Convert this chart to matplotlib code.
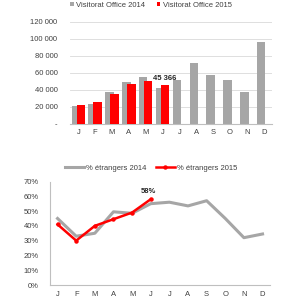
import matplotlib.pyplot as plt
import numpy as np

# data
months = ['J', 'F', 'M', 'A', 'M', 'J', 'J', 'A', 'S', 'O', 'N', 'D']
visit_2014 = [21500, 24000, 37000, 49000, 55500, 42500, 51500, 72000, 58000, 51500, 37500, 96000]
visit_2015 = [22000, 26000, 35000, 46500, 50000, 45366]
etr_2014 = [45, 33, 35, 49.5, 48.5, 55, 56, 53.5, 57, 45, 32, 34.5]
etr_2015 = [41, 30, 40, 44.5, 49, 58]

GREY = '#a6a6a6'
RED = '#ff0000'

fig = plt.figure(figsize=(3, 3), dpi=100)
plt.rcParams['font.family'] = ['Liberation Sans', 'DejaVu Sans']

# top chart: visitors
ax1 = fig.add_axes([0.233, 0.587, 0.674, 0.34])
x = np.arange(len(months))
x15 = np.arange(len(visit_2015))
ax1.bar(x - 0.15, visit_2014, width=0.5, color=GREY, label='Visitorat Office 2014', zorder=2)
ax1.bar(x15 + 0.15, visit_2015, width=0.5, color=RED, label='Visitorat Office 2015', zorder=3)
ax1.set_ylim(0, 120000)
ax1.set_xlim(-0.5, 11.5)
ax1.set_yticks(range(0, 120001, 20000))
ax1.set_yticklabels(['-'] + ['{:,}'.format(v).replace(',', ' ') for v in range(20000, 120001, 20000)])
ax1.set_xticks(x)
ax1.set_xticklabels(months)
ax1.grid(axis='y', color='#d9d9d9', linewidth=0.6, zorder=0)
for s in ['top', 'right', 'left']:
    ax1.spines[s].set_visible(False)
ax1.spines['bottom'].set_color('#bfbfbf')
ax1.tick_params(length=0, labelsize=5.5, colors='#404040', pad=4)
ax1.tick_params(axis='y', pad=9)
ax1.text(5 + 0.15, visit_2015[5] + 4000, '{:,}'.format(visit_2015[5]).replace(',', ' '),
         ha='center', va='bottom', fontsize=5.5, fontweight='bold', color='#262626', zorder=4)
ax1.legend(loc='lower center', bbox_to_anchor=(0.4, 1.06), ncol=2, frameon=False,
           fontsize=5.5, handlelength=0.5, handleheight=0.5, handletextpad=0.3,
           columnspacing=1.5, labelcolor='#404040')

# bottom chart: share of foreigners
ax2 = fig.add_axes([0.167, 0.05, 0.733, 0.345])
ax2.plot(x, etr_2014, color=GREY, linewidth=2.2, label='% étrangers 2014')
ax2.plot(x15, etr_2015, color=RED, linewidth=1.8, marker='o', markersize=2.2,
         label='% étrangers 2015')
ax2.set_ylim(0, 70)
ax2.set_xlim(-0.4, 11.4)
ax2.set_yticks(range(0, 71, 10))
ax2.set_yticklabels(['{}%'.format(v) for v in range(0, 71, 10)])
ax2.set_xticks(x)
ax2.set_xticklabels(months)
for s in ['top', 'right']:
    ax2.spines[s].set_visible(False)
for s in ['left', 'bottom']:
    ax2.spines[s].set_color('#bfbfbf')
ax2.tick_params(length=0, labelsize=5.5, colors='#404040', pad=4)
ax2.tick_params(axis='y', pad=8)
ax2.text(5 - 0.15, etr_2015[5] + 3, '{}%'.format(etr_2015[5]), ha='center', va='bottom',
         fontsize=5.5, fontweight='bold', color='#262626')
ax2.legend(loc='lower center', bbox_to_anchor=(0.46, 1.03), ncol=2, frameon=False,
           fontsize=5.5, handlelength=2.5, handletextpad=0.3, columnspacing=1.2,
           labelcolor='#404040')

fig.savefig('out.png', dpi=100)
